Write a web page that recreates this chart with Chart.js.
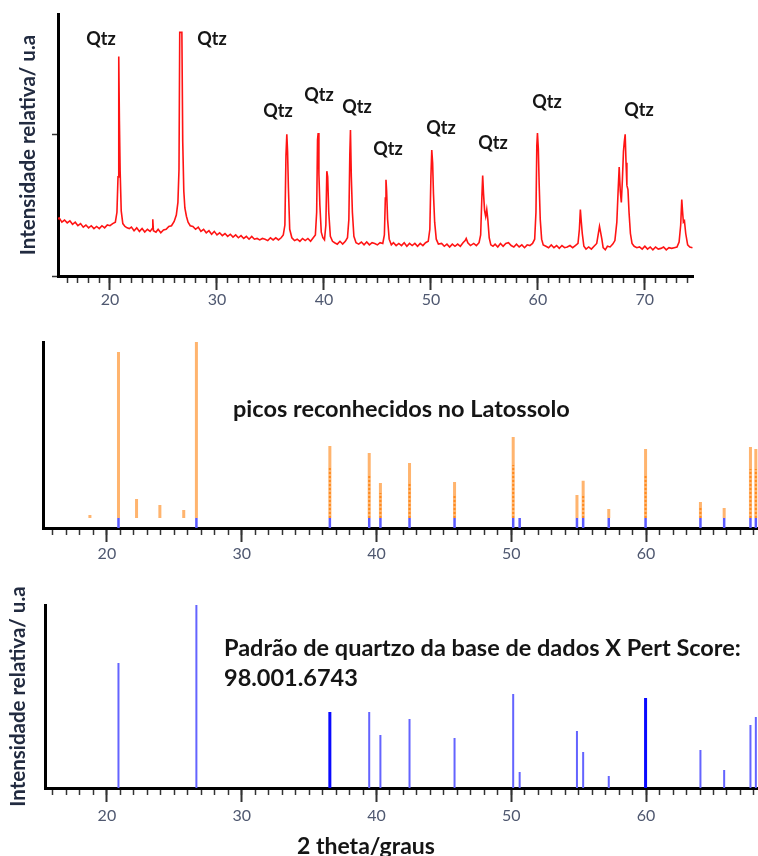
<!DOCTYPE html>
<html>
<head>
<meta charset="utf-8">
<script src="https://cdn.jsdelivr.net/npm/chart.js@4.4.1/dist/chart.umd.min.js"></script>
<style>
  html, body { margin: 0; padding: 0; background: #fff; overflow: hidden; }
  #wrap { position: relative; width: 758px; height: 856px; font-family: Lato, sans-serif; }
  canvas { position: absolute; left: 0; }
  .lbl { position: absolute; font-weight: 700; color: #151515; white-space: nowrap; line-height: 1; }
  .qtz { font-size: 18px; transform: translate(-50%, -50%); }
  .note { font-size: 23.5px; transform: translateY(-50%); }
</style>
</head>
<body>
<div id="wrap">
  <canvas id="scanChart" width="758" height="310" style="top:0"></canvas>
  <canvas id="peaksChart" width="758" height="255" style="top:310px"></canvas>
  <canvas id="refChart" width="758" height="291" style="top:565px"></canvas>

  <div class="lbl qtz" style="left:101px;top:38px">Qtz</div>
  <div class="lbl qtz" style="left:212px;top:38px">Qtz</div>
  <div class="lbl qtz" style="left:278px;top:110px">Qtz</div>
  <div class="lbl qtz" style="left:319px;top:94px">Qtz</div>
  <div class="lbl qtz" style="left:357px;top:106px">Qtz</div>
  <div class="lbl qtz" style="left:388px;top:148px">Qtz</div>
  <div class="lbl qtz" style="left:441px;top:127px">Qtz</div>
  <div class="lbl qtz" style="left:493px;top:142px">Qtz</div>
  <div class="lbl qtz" style="left:547px;top:101px">Qtz</div>
  <div class="lbl qtz" style="left:639px;top:109px">Qtz</div>

  <div class="lbl note" style="left:233px;top:409px">picos reconhecidos no Latossolo</div>
  <div class="lbl note" style="left:224px;top:648px">Padrão de quartzo da base de dados X Pert Score:</div>
  <div class="lbl note" style="left:224px;top:678px">98.001.6743</div>
  <div class="lbl" style="left:297px;top:845px;font-size:23px;transform:translateY(-50%)">2 theta/graus</div>
</div>

<script>
// difratograma do Latossolo (2θ em graus, intensidade relativa)
const scanTheta = [
  15.0, 15.25, 15.5, 15.75, 16.0, 16.25, 16.5, 16.75, 17.0, 17.25,
  17.5, 17.75, 18.0, 18.25, 18.5, 18.75, 19.0, 19.25, 19.5, 19.75,
  20.0, 20.25, 20.5, 20.65, 20.75, 20.82, 20.88, 20.95, 21.05, 21.2,
  21.4, 21.6, 21.8, 22.0, 22.25, 22.5, 22.75, 23.0, 23.25, 23.5,
  23.75, 23.95, 24.0, 24.06, 24.3, 24.5, 24.75, 25.0, 25.25, 25.5,
  25.75, 26.0, 26.2, 26.35, 26.45, 26.52, 26.72, 26.8, 26.9, 27.0,
  27.15, 27.3, 27.5, 27.75, 28.0, 28.25, 28.5, 28.75, 29.0, 29.25,
  29.5, 29.75, 30.0, 30.25, 30.5, 30.75, 31.0, 31.25, 31.5, 31.75,
  32.0, 32.25, 32.5, 32.75, 33.0, 33.25, 33.5, 33.75, 34.0, 34.25,
  34.5, 34.75, 35.0, 35.25, 35.5, 35.75, 36.0, 36.2, 36.35, 36.45,
  36.53, 36.6, 36.68, 36.8, 37.0, 37.25, 37.5, 37.75, 38.0, 38.25,
  38.5, 38.75, 39.0, 39.2, 39.32, 39.4, 39.46, 39.53, 39.62, 39.75,
  39.9, 40.05, 40.18, 40.27, 40.35, 40.45, 40.6, 40.8, 41.0, 41.25,
  41.5, 41.75, 42.0, 42.2, 42.33, 42.42, 42.48, 42.56, 42.66, 42.8,
  43.0, 43.25, 43.5, 43.75, 44.0, 44.25, 44.5, 44.75, 45.0, 45.25,
  45.5, 45.65, 45.74, 45.8, 45.86, 45.95, 46.1, 46.3, 46.5, 46.75,
  47.0, 47.25, 47.5, 47.75, 48.0, 48.25, 48.5, 48.75, 49.0, 49.25,
  49.5, 49.75, 49.9, 50.0, 50.08, 50.16, 50.24, 50.35, 50.5, 50.7,
  51.0, 51.25, 51.5, 51.75, 52.0, 52.25, 52.5, 52.75, 53.0, 53.2,
  53.3, 53.45, 53.7, 54.0, 54.25, 54.5, 54.65, 54.76, 54.84, 54.92,
  55.02, 55.12, 55.22, 55.32, 55.45, 55.6, 55.8, 56.0, 56.25, 56.5,
  56.75, 57.0, 57.25, 57.5, 57.75, 58.0, 58.25, 58.5, 58.75, 59.0,
  59.25, 59.5, 59.7, 59.82, 59.9, 59.96, 60.04, 60.12, 60.22, 60.35,
  60.5, 60.75, 61.0, 61.25, 61.5, 61.75, 62.0, 62.25, 62.5, 62.75,
  63.0, 63.25, 63.5, 63.75, 63.88, 63.97, 64.06, 64.15, 64.3, 64.5,
  64.75, 65.0, 65.25, 65.5, 65.65, 65.76, 65.86, 65.98, 66.1, 66.3,
  66.5, 66.75, 67.0, 67.2, 67.38, 67.5, 67.6, 67.7, 67.8, 67.9,
  68.0, 68.08, 68.16, 68.24, 68.32, 68.42, 68.52, 68.65, 68.8, 69.0,
  69.25, 69.5, 69.75, 70.0, 70.25, 70.5, 70.75, 71.0, 71.25, 71.5,
  71.75, 72.0, 72.25, 72.5, 72.75, 73.0, 73.2, 73.35, 73.45, 73.52,
  73.6, 73.7, 73.82, 74.0, 74.2, 74.45
];
const scanIntensity = [
  .395, .41, .38, .395, .375, .39, .365, .38, .355, .37,
  .345, .36, .34, .355, .335, .35, .335, .355, .34, .36,
  .355, .37, .38, .45, .70, 1.55, 1.10, .74, .46, .37,
  .35, .34, .335, .345, .32, .34, .315, .335, .31, .33,
  .315, .335, .40, .32, .31, .33, .305, .325, .33, .35,
  .355, .385, .43, .52, .75, 1.72, 1.72, .95, .60, .48,
  .42, .38, .355, .35, .33, .345, .315, .33, .305, .32,
  .295, .315, .29, .305, .285, .30, .28, .295, .275, .29,
  .27, .285, .265, .28, .26, .28, .26, .265, .255, .265,
  .26, .25, .27, .255, .27, .255, .27, .29, .36, .85,
  1.0, .88, .62, .33, .27, .25, .26, .245, .265, .25,
  .265, .245, .27, .29, .45, .96, 1.01, .72, .50, .31,
  .27, .255, .36, .74, .70, .45, .28, .245, .235, .225,
  .245, .225, .245, .27, .40, .86, 1.03, .70, .45, .28,
  .235, .225, .24, .22, .24, .22, .235, .23, .22, .235,
  .23, .29, .55, .68, .60, .40, .26, .22, .235, .215,
  .23, .215, .235, .21, .23, .215, .23, .21, .23, .215,
  .235, .245, .33, .70, .89, .80, .58, .38, .26, .225,
  .23, .21, .225, .205, .225, .21, .225, .21, .235, .25,
  .265, .235, .215, .23, .215, .235, .29, .55, .71, .58,
  .46, .42, .47, .40, .27, .22, .21, .225, .205, .23,
  .21, .23, .235, .215, .205, .225, .205, .22, .20, .22,
  .215, .23, .26, .45, .92, 1.01, .90, .65, .40, .26,
  .22, .21, .20, .22, .20, .215, .195, .215, .20, .205,
  .215, .20, .215, .23, .33, .47, .38, .30, .21, .19,
  .205, .19, .21, .23, .30, .35, .31, .26, .20, .185,
  .21, .205, .225, .25, .38, .60, .77, .60, .52, .68,
  .88, .95, 1.0, .80, .64, .61, .45, .30, .23, .21,
  .20, .205, .19, .21, .19, .205, .185, .205, .19, .195,
  .205, .185, .20, .195, .20, .205, .24, .36, .54, .46,
  .38, .39, .30, .22, .205, .20
];
const scanYTicks = [0, 1];

// picos reconhecidos no Latossolo (altura da barra e trecho pontilhado)
const peakTheta  = [18.74, 20.86, 22.2, 23.93, 25.7, 26.64, 36.54, 39.46, 40.29, 42.45, 45.79, 50.14, 54.87, 55.33, 57.23, 59.96, 64.03, 65.79, 67.74, 68.14];
const peakHeight = [7, 94.6, 15.6, 12.4, 9.7, 100, 44.1, 40.3, 24.2, 34.9, 24.7, 48.9, 17.7, 25.4, 10.2, 42.5, 14.0, 10.8, 43.5, 42.5];
const peakDotted = [0, 0, 0, 0, 0, 0, 32.3, 29.0, 18.8, 24.2, 17.7, 33.9, 0, 17.7, 0, 28.5, 10.8, 0, 31.7, 31.7];

// padrão de quartzo, X Pert Score 98.001.6743
const qtzTheta     = [20.86, 26.64, 36.54, 39.46, 40.29, 42.45, 45.79, 50.14, 50.62, 54.87, 55.33, 57.23, 59.96, 64.03, 65.79, 67.74, 68.14];
const qtzIntensity = [68.3, 100, 41.5, 41.5, 29, 37.7, 27.3, 51.4, 8.7, 31.1, 19.7, 6.6, 49.2, 20.8, 9.8, 34.4, 38.8];
const qtzStrong    = [36.54, 59.96];
const qtzMark = 5.4; // marcador azul sob os picos do painel do meio

const majorTicks = [20, 30, 40, 50, 60, 70];
const minorTicks = [16, 17, 18, 19, 20, 21, 22, 23, 24, 25, 26, 27, 28, 29, 30, 31, 32, 33, 34, 35, 36, 37,
  38, 39, 40, 41, 42, 43, 44, 45, 46, 47, 48, 49, 50, 51, 52, 53, 54, 55, 56, 57, 58, 59, 60, 61, 62, 63,
  64, 65, 66, 67, 68, 69, 70, 71, 72, 73, 74];

const tickFont = { family: 'Lato', size: 16 };
const titleFont = { family: 'Lato', size: 20.5, weight: 'bold' };
const yTitle = 'Intensidade relativa/ u.a';

// linhas verticais: (x, base) -> (x, topo), separadas por null
function sticks(xs, tops, base, keep) {
  const pts = [];
  xs.forEach((x, i) => {
    if (!tops[i]) return;
    if (keep && !keep(x)) return;
    pts.push({ x: x, y: base }, { x: x, y: tops[i] }, { x: x, y: null });
  });
  return pts;
}

function stickSet(data, color, width, dash) {
  return {
    data: data, borderColor: color, borderWidth: width, borderDash: dash || [],
    borderCapStyle: 'butt', pointRadius: 0, spanGaps: false, tension: 0
  };
}

function thetaScales(min, max, axisHeight, labelPad) {
  return {
    x: {
      type: 'linear', position: 'bottom', min: min, max: max, weight: 1,
      afterBuildTicks: a => { a.ticks = majorTicks.filter(v => v >= min && v <= max).map(v => ({ value: v })); },
      afterFit: a => { a.height = axisHeight; },
      border: { display: true, color: '#000', width: 3 },
      grid: { drawOnChartArea: false, drawTicks: true, tickLength: 14, tickWidth: 2, tickColor: '#333' },
      ticks: { padding: labelPad, color: '#4f5870', font: tickFont, maxRotation: 0 }
    },
    xMinor: {
      type: 'linear', position: 'bottom', min: min, max: max, weight: 0,
      afterBuildTicks: a => { a.ticks = minorTicks.filter(v => v >= min && v <= max).map(v => ({ value: v })); },
      afterFit: a => { a.height = 0; },
      border: { display: false },
      grid: { drawOnChartArea: false, drawTicks: true, tickLength: 7, tickWidth: 1.5, tickColor: '#333' },
      ticks: { callback: () => '' }
    }
  };
}

const common = {
  responsive: false,
  animation: false,
  events: [],
  plugins: { legend: { display: false }, tooltip: { enabled: false } }
};

// painel superior: difratograma
const scanPoints = scanTheta.map((t, i) => ({ x: t, y: scanIntensity[i] }));
new Chart('scanChart', {
  type: 'line',
  data: { datasets: [{
    data: scanPoints, borderColor: '#ff1414', borderWidth: 1.6, pointRadius: 0, tension: 0
  }] },
  options: Object.assign({}, common, {
    layout: { padding: { top: 14, right: 65, left: 0, bottom: 0 } },
    scales: Object.assign(thetaScales(15.14, 74.5, 34, 0), {
      y: {
        min: 0, max: 1.85, position: 'left',
        afterBuildTicks: a => { a.ticks = scanYTicks.map(v => ({ value: v })); },
        afterFit: a => { a.width = 58; },
        border: { display: true, color: '#000', width: 3 },
        grid: { drawOnChartArea: false, drawTicks: true, tickLength: 6, tickWidth: 1.5, tickColor: '#333' },
        ticks: { display: false },
        title: { display: true, text: yTitle, color: '#222b40', font: titleFont, padding: { top: 16, bottom: 0 } }
      }
    })
  })
});

// painel do meio: picos reconhecidos (o primeiro conjunto fica por cima)
new Chart('peaksChart', {
  type: 'line',
  data: { datasets: [
    stickSet(sticks(peakTheta, peakDotted, qtzMark), '#ff8a1e', 2, [2, 2]),
    stickSet(sticks(peakTheta, peakHeight, qtzMark), '#ffb46e', 3),
    stickSet(sticks(qtzTheta, qtzTheta.map(() => qtzMark), 0), '#5a5aff', 2.5)
  ] },
  options: Object.assign({}, common, {
    layout: { padding: { top: 32, right: 0, left: 0, bottom: 0 } },
    scales: Object.assign(thetaScales(15.26, 68.3, 37, 2), {
      y: {
        min: 0, max: 100, position: 'left',
        afterFit: a => { a.width = 43; },
        border: { display: true, color: '#000', width: 3 },
        grid: { display: false },
        ticks: { display: false }
      }
    })
  })
});

// painel inferior: padrão de quartzo
new Chart('refChart', {
  type: 'line',
  data: { datasets: [
    stickSet(sticks(qtzTheta, qtzIntensity, 0, x => qtzStrong.indexOf(x) >= 0), '#0a0aff', 3),
    stickSet(sticks(qtzTheta, qtzIntensity, 0, x => qtzStrong.indexOf(x) < 0), '#6464ff', 2)
  ] },
  options: Object.assign({}, common, {
    layout: { padding: { top: 40, right: 0, left: 0, bottom: 0 } },
    scales: Object.assign(thetaScales(15.41, 68.3, 68, 4), {
      y: {
        min: 0, max: 100, position: 'left',
        afterFit: a => { a.width = 45; },
        border: { display: true, color: '#000', width: 3 },
        grid: { display: false },
        ticks: { display: false },
        title: { display: true, text: yTitle, color: '#222b40', font: titleFont, padding: { top: 6, bottom: 0 } }
      }
    })
  })
});
</script>
</body>
</html>
